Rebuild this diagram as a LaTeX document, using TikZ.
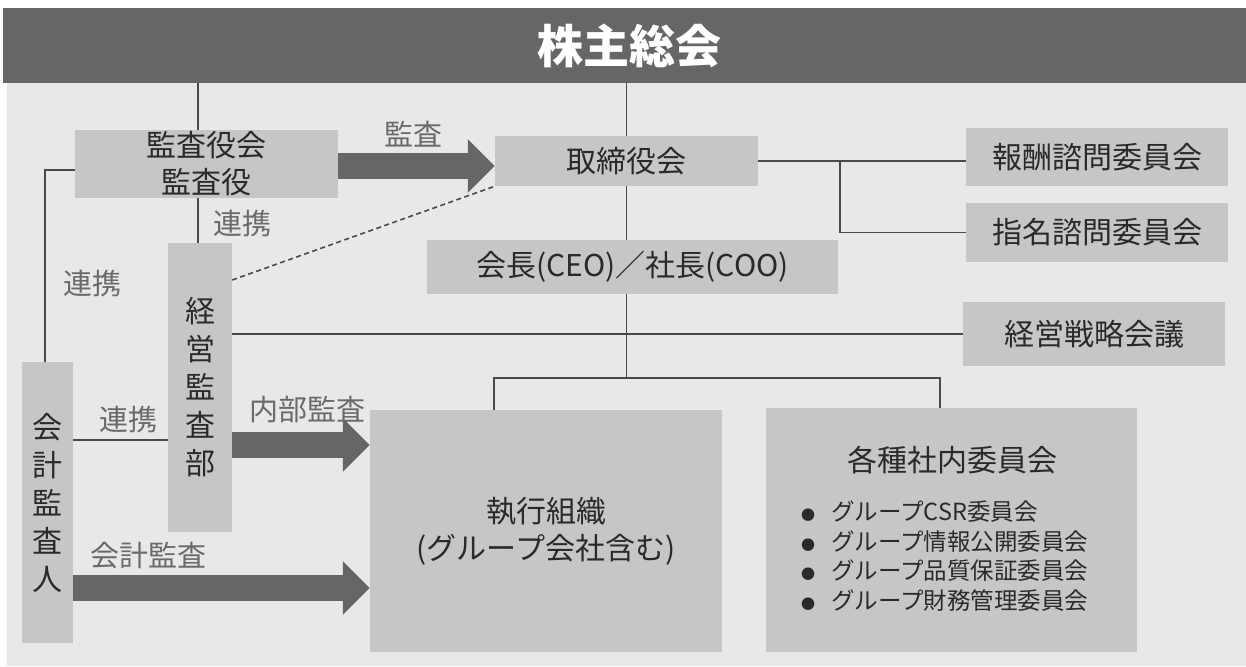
\documentclass[tikz,border=0pt]{standalone}
\usepackage{fontspec}
\setmainfont{Noto Sans CJK JP}
\usetikzlibrary{arrows.meta,calc}
\definecolor{bandgray}{HTML}{666666}
\definecolor{bggray}{HTML}{E8E8E8}
\definecolor{boxgray}{HTML}{C6C6C6}
\definecolor{txtc}{HTML}{2A2A2A}
\definecolor{lblc}{HTML}{6A6A6A}
\definecolor{lnc}{HTML}{4A4A4A}
\begin{document}
\begin{tikzpicture}[x=1pt,y=-1pt,
  box/.style={fill=boxgray, inner sep=0pt, text=txtc, font=\fontsize{30}{37}\selectfont, align=center},
  vbox/.style={box, font=\fontsize{30}{38}\selectfont},
  lbl/.style={text=lblc, font=\fontsize{29}{32}\selectfont, inner sep=0pt},
  conn/.style={draw=lnc, line width=1.6pt},
  bigarrow/.style={draw=bandgray, line width=26pt, -{Triangle[length=27pt,width=52pt]}}]
\useasboundingbox (0,0) rectangle (1246,666);
\fill[white] (0,0) rectangle (1246,666);
\fill[bggray] (7,83) rectangle (1246,666);
\node[fill=bandgray, minimum width=1243pt, minimum height=75pt, inner sep=0pt, anchor=north west] (soukai) at (3,8) {};
\node[text=white, font=\fontsize{46}{50}\selectfont\bfseries, inner sep=0pt] (soukaititle) at (629,46) {株主総会};

% boxes
\node[box, minimum width=263pt, minimum height=68pt] (kansayaku) at (206.5,164) {監査役会\\監査役};
\node[box, minimum width=263pt, minimum height=50pt] (torishimari) at (626.5,161) {取締役会};
\node[box, minimum width=262pt, minimum height=58pt] (housyu) at (1097,157) {報酬諮問委員会};
\node[box, minimum width=262pt, minimum height=59pt] (shimei) at (1097,232.5) {指名諮問委員会};
\node[box, minimum width=411pt, minimum height=54pt] (ceo) at (632.5,267) {会長(CEO)／社長(COO)};
\node[box, minimum width=262pt, minimum height=64pt] (senryaku) at (1094,334) {経営戦略会議};
\node[vbox, minimum width=64pt, minimum height=289pt] (keiei) at (200,387.5) {経\\営\\監\\査\\部};
\node[vbox, minimum width=51pt, minimum height=281pt] (kaikei) at (47.5,502.5) {会\\計\\監\\査\\人};
\node[box, minimum width=352pt, minimum height=242pt] (shikko) at (546,531) {執行組織\\(グループ会社含む)};
\node[box, minimum width=371pt, minimum height=244pt] (kakushu) at (951.5,530) {};
\node[text=txtc, font=\fontsize{30}{34}\selectfont, inner sep=0pt] (kakushutitle) at (952,460) {各種社内委員会};
\node[text=txtc, font=\fontsize{23.5}{29.5}\selectfont, inner sep=0pt, align=left, anchor=west] (kakushulist) at (801,556)
  {{\fontsize{14}{29.5}\selectfont ●}\hspace{16pt}グループCSR委員会\\
   {\fontsize{14}{29.5}\selectfont ●}\hspace{16pt}グループ情報公開委員会\\
   {\fontsize{14}{29.5}\selectfont ●}\hspace{16pt}グループ品質保証委員会\\
   {\fontsize{14}{29.5}\selectfont ●}\hspace{16pt}グループ財務管理委員会};

% connectors
\draw[conn] ([xshift=-8.5pt]kansayaku.north) -- ([xshift=-8.5pt]kansayaku.north |- soukai.south);
\draw[conn] ([xshift=-2pt]keiei.north) -- ([xshift=-2pt]keiei.north |- kansayaku.south);
\draw[conn] ([yshift=-6pt]kansayaku.west) -| ([xshift=-2.5pt]kaikei.north);
\coordinate (kr) at ([yshift=62.5pt]kaikei.east);
\draw[conn] (kr) -- (keiei.west |- kr);
\draw[conn] (keiei.east |- senryaku.west) -- (senryaku.west);
\draw[conn, dash pattern=on 5pt off 3.5pt] ([yshift=107.5pt]keiei.east) -- (torishimari.south west);
\draw[conn] (torishimari.north) -- (torishimari.north |- soukai.south);
\draw[conn] (torishimari.south) -- (torishimari.south |- ceo.north);
\draw[conn] (torishimari.east) -- (housyu.west |- torishimari.east);
\coordinate (br) at ([xshift=82pt]torishimari.east);
\draw[conn] (br) |- (shimei.west);
\coordinate (jn) at ([yshift=-84pt]ceo.south -| torishimari.south);
\draw[conn] (ceo.south -| torishimari.south) -- (jn);
\draw[conn] ([xshift=-52pt]shikko.north) |- (jn);
\draw[conn] ([xshift=-11.5pt]kakushu.north) |- (jn);

% big arrows
\coordinate (ka) at ([yshift=-2pt]kansayaku.east);
\draw[bigarrow] (ka) -- (torishimari.west |- ka);
\coordinate (na) at ([yshift=-57.5pt]keiei.east);
\draw[bigarrow] (na) -- (shikko.west |- na);
\coordinate (kk) at ([yshift=-85.5pt]kaikei.east);
\draw[bigarrow] (kk) -- (shikko.west |- kk);

% labels
\node[lbl] (l1) at (413,134) {監査};
\node[lbl] (l2) at (242,224) {連携};
\node[lbl] (l3) at (92,284) {連携};
\node[lbl] (l4) at (128,420) {連携};
\node[lbl] (l5) at (307,410) {内部監査};
\node[lbl] (l6) at (148,556) {会計監査};
\end{tikzpicture}
\end{document}
